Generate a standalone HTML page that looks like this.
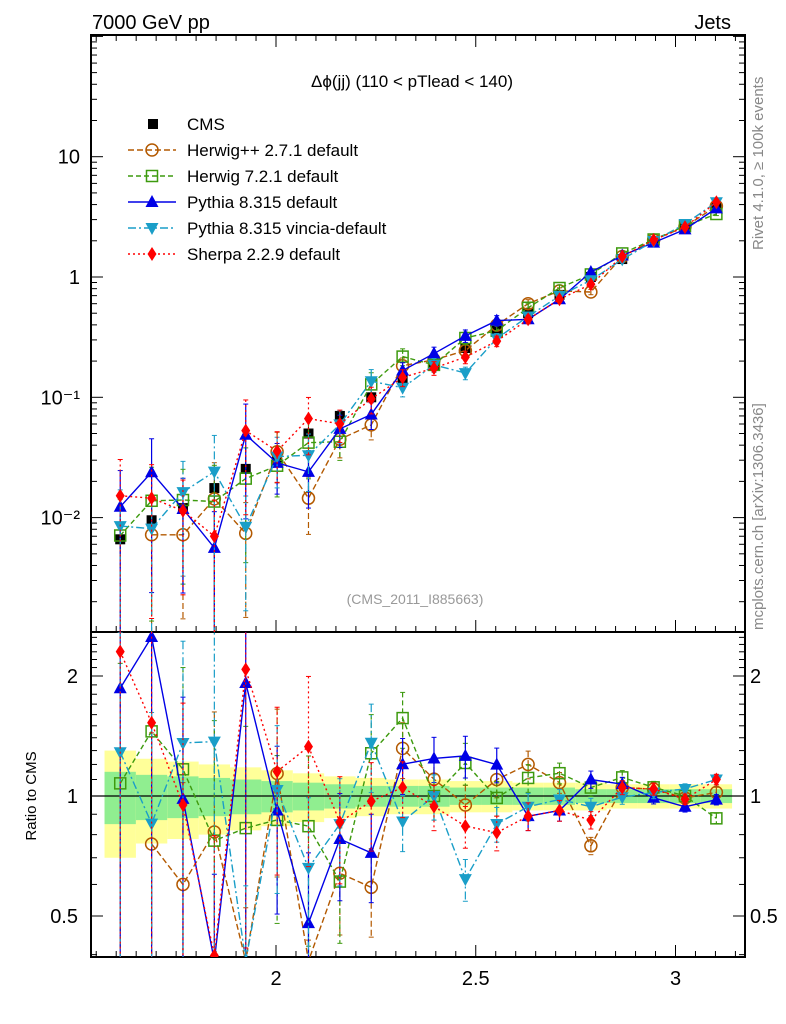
<!DOCTYPE html>
<html><head><meta charset="utf-8"><style>
html,body{margin:0;padding:0;background:#fff;overflow:hidden;}
svg{display:block;font-family:"Liberation Sans",sans-serif;}
</style></head><body>
<svg id="chart" width="786" height="1024" viewBox="0 0 786 1024" xmlns="http://www.w3.org/2000/svg">
<defs>
<clipPath id="clipMain"><rect x="91" y="35" width="654" height="597"/></clipPath>
<clipPath id="clipRatio"><rect x="91" y="632" width="654" height="325"/></clipPath>
</defs>
<text x="92" y="29" font-size="20">7000 GeV pp</text>
<text x="731" y="29" font-size="20" text-anchor="end">Jets</text>
<text x="412" y="87" font-size="17" text-anchor="middle">Δϕ(jj) (110 &lt; pTlead &lt;  140)</text>
<text x="415" y="604" font-size="14" fill="#999" text-anchor="middle">(CMS_2011_I885663)</text>
<text transform="translate(763,250) rotate(-90)" font-size="15" fill="#888">Rivet 4.1.0, ≥ 100k events</text>
<text transform="translate(763,630) rotate(-90)" font-size="15" fill="#888">mcplots.cern.ch [arXiv:1306.3436]</text>
<text transform="translate(36,796) rotate(-90)" font-size="15" text-anchor="middle">Ratio to CMS</text>
<g id="bands" clip-path="url(#clipRatio)"></g>
<g id="axes"></g>
<g id="mainSeries" clip-path="url(#clipMain)"></g>
<g id="ratioSeries" clip-path="url(#clipRatio)"></g>
<g id="legend"></g>
</svg>
<script>
const cms = [0.0066,0.0095,0.012,0.0176,0.0254,0.031,0.050,0.070,0.100,0.139,0.186,0.257,0.362,0.50,0.71,1.0,1.41,1.95,2.65,3.8];
const cmsTotErr = [0.30,0.24,0.22,0.20,0.18,0.16,0.14,0.12,0.11,0.10,0.10,0.09,0.09,0.08,0.08,0.08,0.07,0.07,0.07,0.07];
const cmsStatErr = [0.15,0.13,0.12,0.11,0.10,0.09,0.08,0.07,0.06,0.06,0.06,0.05,0.05,0.05,0.05,0.04,0.04,0.04,0.04,0.04];
const herwigpp = [null,0.0072,0.0072,0.0143,0.0074,0.0353,0.0145,0.0448,0.059,0.183,0.205,0.244,0.398,0.60,0.767,0.75,1.48,2.03,2.62,3.88];
const herwig7 = [0.0071,0.0138,0.0140,0.0136,0.0211,0.0270,0.042,0.0427,0.128,0.218,0.186,0.311,0.358,0.555,0.81,1.05,1.57,2.05,2.65,3.34];
const pythia = [0.0123,0.0238,0.0118,0.0056,0.0488,0.0285,0.024,0.0546,0.072,0.167,0.231,0.324,0.434,0.445,0.653,1.10,1.51,1.93,2.49,3.72];
const vincia = [0.0085,0.0081,0.0163,0.0241,0.0084,0.0321,0.033,0.0595,0.136,0.120,0.186,0.159,0.308,0.47,0.696,0.94,1.40,1.99,2.76,4.18];
const sherpa = [0.0152,0.0145,0.0114,0.0070,0.0528,0.0357,0.0665,0.0602,0.097,0.146,0.175,0.216,0.293,0.445,0.653,0.87,1.48,2.03,2.60,4.18];
const mcRelErr = [1.0,0.9,0.8,1.0,0.8,0.45,0.5,0.3,0.25,0.16,0.13,0.12,0.1,0.08,0.06,0.05,0.04,0.035,0.03,0.03];
const xTickLabels = ["2","2.5","3"];
const mainTickLabels = ["10","1","10⁻¹","10⁻²"];
const ratioTickLabels = ["2","1","0.5"];

const NS="http://www.w3.org/2000/svg";
const L=91,R=745,T=35,MB=632,RB=957;
const N=cms.length, W=Math.PI/40;
const centers=[]; for(let k=0;k<N;k++) centers.push(Math.PI/2+W/2+k*W);
const X=v=>276+(v-2)*399.5;
const YM=v=>277-Math.log10(v)*120.3;
const YR=r=>796-Math.log2(r)*120;
function el(tag,attrs,parent){const e=document.createElementNS(NS,tag);for(const k in attrs)e.setAttribute(k,attrs[k]);parent.appendChild(e);return e;}
const axes=document.getElementById('axes');
const bands=document.getElementById('bands');
for(let i=0;i<N;i++){
  const x0=X(centers[i]-W/2),x1=X(centers[i]+W/2);
  const b=el('rect',{x:x0,y:YR(1+cmsTotErr[i]),width:x1-x0,height:YR(1-cmsTotErr[i])-YR(1+cmsTotErr[i]),fill:'#ffff99'},bands);
  
  
  const g=el('rect',{x:x0,y:YR(1+cmsStatErr[i]),width:x1-x0,height:YR(1-cmsStatErr[i])-YR(1+cmsStatErr[i]),fill:'#90ee90'},bands);
  
  
}
el('line',{x1:L,x2:R,y1:YR(1),y2:YR(1),stroke:'#000','stroke-width':1.2},bands);
const f1=el('rect',{x:L,y:T,width:R-L,height:MB-T,fill:'none',stroke:'#000','stroke-width':2},axes);


const f2=el('rect',{x:L,y:MB,width:R-L,height:RB-MB,fill:'none',stroke:'#000','stroke-width':2},axes);


for(let t=1.55;t<=3.17;t+=0.05){
  const tv=Math.round(t*100)/100;const major=Math.abs(tv*2-Math.round(tv*2))<1e-6;
  const len=major?12:6, x=X(tv); if(x<L+1||x>R-1)continue;
  el('line',{x1:x,x2:x,y1:T,y2:T+len,stroke:'#000','stroke-width':1},axes);
  el('line',{x1:x,x2:x,y1:RB,y2:RB-len,stroke:'#000','stroke-width':1},axes);
  el('line',{x1:x,x2:x,y1:MB,y2:MB-len,stroke:'#000','stroke-width':1},axes);
}
[2,2.5,3].forEach((v,i)=>{
  const t=el('text',{x:X(v),y:985,'font-size':20,'text-anchor':'middle'},axes);t.textContent=xTickLabels[i];
  
  
});
for(let d=-3;d<=2;d++){for(let m=1;m<10;m++){const v=m*Math.pow(10,d);const y=YM(v);if(y<T+1||y>MB-1)continue;
  const len=m==1?12:6;
  el('line',{x1:L,x2:L+len,y1:y,y2:y,stroke:'#000','stroke-width':1},axes);
  el('line',{x1:R,x2:R-len,y1:y,y2:y,stroke:'#000','stroke-width':1},axes);}}
[10,1,0.1,0.01].forEach((v,i)=>{
  const t=el('text',{x:80,y:YM(v)+7,'font-size':20,'text-anchor':'end'},axes);t.textContent=mainTickLabels[i];
  
  
});
for(let r=0.4;r<=2.6;r+=0.1){const rv=Math.round(r*10)/10;const y=YR(rv);if(y<MB+1||y>RB-1)continue;
  const len=(rv==0.5||rv==1||rv==2)?12:6;
  el('line',{x1:L,x2:L+len,y1:y,y2:y,stroke:'#000','stroke-width':1},axes);
  el('line',{x1:R,x2:R-len,y1:y,y2:y,stroke:'#000','stroke-width':1},axes);}
[2,1,0.5].forEach((v,i)=>{
  const t=el('text',{x:78,y:YR(v)+7,'font-size':20,'text-anchor':'end'},axes);t.textContent=ratioTickLabels[i];
  
  
  const t2=el('text',{x:750,y:YR(v)+7,'font-size':20},axes);t2.textContent=ratioTickLabels[i];
  
  
});
function marker(type,x,y,color,parent){
  let m;
  if(type=='square')m=el('rect',{x:x-5,y:y-5,width:10,height:10,fill:'#000'},parent);
  else if(type=='osquare')m=el('rect',{x:x-5.5,y:y-5.5,width:11,height:11,fill:'#fff','fill-opacity':0,stroke:color,'stroke-width':1.5},parent);
  else if(type=='circle')m=el('circle',{cx:x,cy:y,r:6,fill:'none',stroke:color,'stroke-width':1.5},parent);
  else if(type=='tri')m=el('polygon',{points:`${x},${y-7} ${x-6.5},${y+5} ${x+6.5},${y+5}`,fill:color},parent);
  else if(type=='itri')m=el('polygon',{points:`${x},${y+7} ${x-6.5},${y-5} ${x+6.5},${y-5}`,fill:color},parent);
  else m=el('polygon',{points:`${x},${y-7} ${x-4.5},${y} ${x},${y+7} ${x+4.5},${y}`,fill:color},parent);
  return m;
}
const series=[
 {name:'herwigpp',label:'Herwig++ 2.7.1 default',vals:herwigpp,color:'#b35900',dash:'6,3',mk:'circle'},
 {name:'herwig7',label:'Herwig 7.2.1 default',vals:herwig7,color:'#3d9a0e',dash:'5,3',mk:'osquare'},
 {name:'pythia',label:'Pythia 8.315 default',vals:pythia,color:'#0000e6',dash:'',mk:'tri'},
 {name:'vincia',label:'Pythia 8.315 vincia-default',vals:vincia,color:'#1a9ec8',dash:'8,3,2,3',mk:'itri'},
 {name:'sherpa',label:'Sherpa 2.2.9 default',vals:sherpa,color:'#ff0000',dash:'2,3',mk:'diamond'}
];
const mainG=document.getElementById('mainSeries'), ratG=document.getElementById('ratioSeries');
for(let i=0;i<N;i++){
  const x=X(centers[i]);
  el('line',{x1:x,x2:x,y1:YM(cms[i]*(1+cmsTotErr[i])),y2:YM(cms[i]*(1-cmsTotErr[i])),stroke:'#000','stroke-width':1},mainG);
  const m=marker('square',x,YM(cms[i]),'#000',mainG);
  
  
}
series.forEach(s=>{
  [[mainG,v=>YM(v),1,MB+4],[ratG,v=>YR(v),0,RB+4]].forEach(([g,Y,isMain,bot])=>{
    const gg=el('g',{},g);
    
    
    let d='',started=false;
    const cl=y=>Math.max(T-4,Math.min(bot,y));
    for(let i=0;i<N;i++){
      const v=s.vals[i]; if(v==null){started=false;continue;}
      const val=isMain?v:v/cms[i];
      const x=X(centers[i]);
      const lo=val*(1-mcRelErr[i]), hi=val*(1+mcRelErr[i]);
      const ylo=lo>0?cl(Y(lo)):bot, yhi=cl(Y(hi));
      el('line',{x1:x,x2:x,y1:yhi,y2:ylo,stroke:s.color,'stroke-width':1.2,'stroke-dasharray':s.dash},gg);
      el('line',{x1:x-2.5,x2:x+2.5,y1:yhi,y2:yhi,stroke:s.color,'stroke-width':1},gg);
      if(lo>0)el('line',{x1:x-2.5,x2:x+2.5,y1:ylo,y2:ylo,stroke:s.color,'stroke-width':1},gg);
      d+=(started?'L':'M')+x+','+cl(Y(val));started=true;
    }
    el('path',{d:d,fill:'none',stroke:s.color,'stroke-width':1.4,'stroke-dasharray':s.dash},gg);
    for(let i=0;i<N;i++){const v=s.vals[i];if(v==null)continue;
      const val=isMain?v:v/cms[i];
      const yy=Y(val); if(yy>bot+10||yy<T-10)continue;
      const m=marker(s.mk,X(centers[i]),yy,s.color,gg);
      
      
    }
  });
});
const lg=document.getElementById('legend');
const c0=marker('square',153,124,'#000',lg);


const ct=el('text',{x:187,y:130,'font-size':17},lg);ct.textContent='CMS';


series.forEach((s,k)=>{
  const y=150+k*26;
  el('line',{x1:128,x2:176,y1:y,y2:y,stroke:s.color,'stroke-width':1.4,'stroke-dasharray':s.dash},lg);
  marker(s.mk,152,y,s.color,lg);
  const t=el('text',{x:187,y:y+6,'font-size':17},lg);t.textContent=s.label;
  
  
});
</script>
</body></html>
